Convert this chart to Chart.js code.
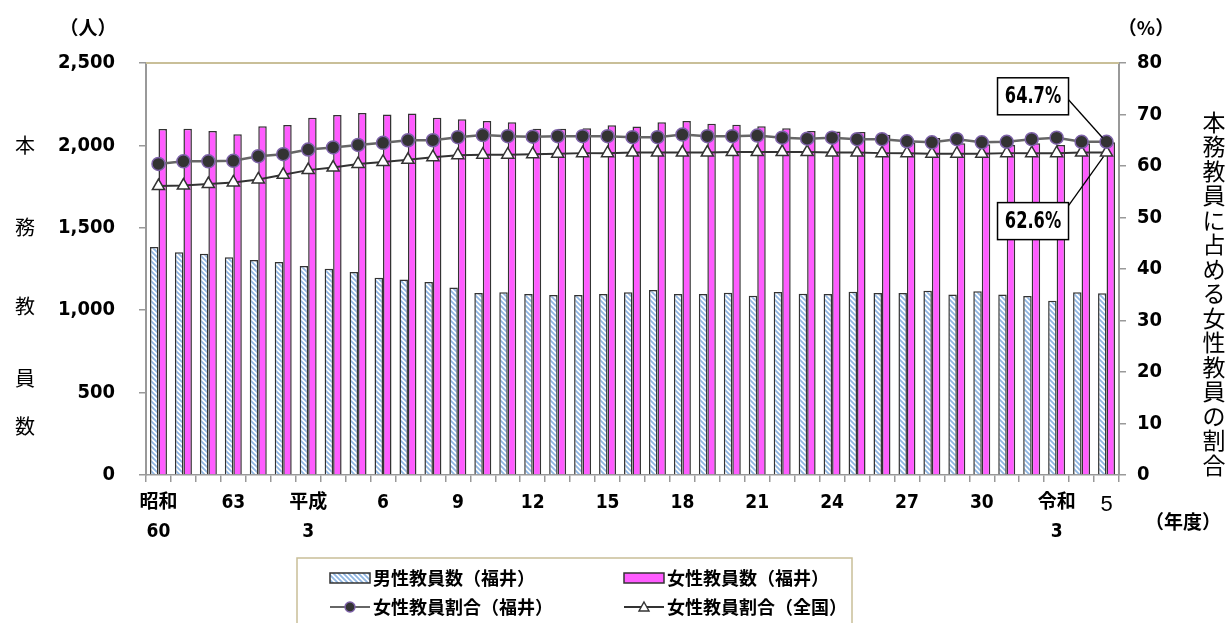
<!DOCTYPE html>
<html>
<head>
<meta charset="utf-8">
<script src="https://cdn.jsdelivr.net/npm/chart.js@4.4.1/dist/chart.umd.min.js"></script>
<style>
html,body{margin:0;padding:0;background:#fff;}
#wrap{width:1227px;height:623px;position:relative;}
</style>
</head>
<body>
<div id="wrap"><canvas id="c" width="1227" height="623"></canvas></div>
<script>
// 年度（昭和60〜令和5）
const categories = [
"昭和60","昭和61","昭和62","昭和63","平成元","平成2","平成3","平成4","平成5","平成6",
"平成7","平成8","平成9","平成10","平成11","平成12","平成13","平成14","平成15","平成16",
"平成17","平成18","平成19","平成20","平成21","平成22","平成23","平成24","平成25","平成26",
"平成27","平成28","平成29","平成30","令和元","令和2","令和3","令和4","令和5"
]
// 軸に出すラベル（空は非表示）
const tickLabels = [
["昭和","60"],"","","63","","",["平成","3"],"","","6",
"","","9","","","12","","","15","",
"","18","","","21","","","24","","",
"27","","","30","","",["令和","3"],"","5"
]
const maleCount = [
1383,1351,1343,1321,1305,1292,1268,1252,1232,1197,
1187,1171,1137,1104,1109,1098,1092,1092,1098,1109,
1123,1098,1098,1106,1088,1110,1100,1098,1112,1104,
1105,1118,1096,1115,1096,1086,1058,1109,1103
]
const femaleCount = [
2100,2101,2087,2067,2116,2124,2168,2184,2197,2187,
2193,2168,2158,2148,2140,2101,2101,2104,2122,2114,
2140,2148,2132,2126,2116,2104,2087,2085,2081,2065,
2016,2045,2013,2007,2003,2013,2003,2013,2019
]
const fukuiRate = [
60.4,60.9,60.9,61.0,61.9,62.3,63.2,63.6,64.1,64.5,
65.0,65.0,65.6,66.0,65.8,65.7,65.8,65.8,65.8,65.6,
65.6,66.1,65.8,65.8,65.9,65.5,65.3,65.5,65.2,65.2,
64.8,64.6,65.2,64.6,64.7,65.2,65.5,64.7,64.7
]
const nationalRate = [
56.1,56.2,56.5,56.8,57.4,58.3,59.2,59.7,60.4,60.8,
61.2,61.7,62.1,62.2,62.2,62.3,62.4,62.5,62.5,62.6,
62.6,62.6,62.6,62.7,62.7,62.7,62.7,62.6,62.6,62.5,
62.5,62.4,62.4,62.4,62.5,62.5,62.5,62.6,62.6
]
const leftTicks = [0,500,1000,1500,2000,2500]
const rightTicks = [0,10,20,30,40,50,60,70,80]

const NUM = "'Liberation Sans Narrow','DejaVu Sans Condensed','Noto Sans CJK JP',sans-serif"
const JP = "'Noto Sans CJK JP','Noto Sans',sans-serif"

// 斜線パターン
function hatch(){
  const p = document.createElement("canvas")
  p.width = 5; p.height = 5
  const g = p.getContext("2d")
  g.fillStyle = "#ffffff"; g.fillRect(0,0,5,5)
  g.strokeStyle = "#8fb6e3"; g.lineWidth = 1.8
  g.beginPath()
  g.moveTo(-1,-1); g.lineTo(6,6)
  g.moveTo(-1,4); g.lineTo(1,6)
  g.moveTo(4,-1); g.lineTo(6,1)
  g.stroke()
  return g.createPattern(p,"repeat")
}
const ctx = document.getElementById("c")
const hatchFill = hatch()

function vText(c, chars, x, ys, font){
  c.font = font
  c.textAlign = "center"; c.textBaseline = "middle"; c.fillStyle = "#000"
  chars.forEach((ch,i)=>c.fillText(ch, x, ys[i]))
}

const deco = {
  id:"deco",
  beforeDraw(chart){
    const c = chart.ctx
    c.save(); c.fillStyle = "#fff"; c.fillRect(0,0,chart.width,chart.height); c.restore()
  },
  afterDraw(chart){
    const c = chart.ctx, a = chart.chartArea
    c.save()
    // 上端の線
    c.strokeStyle = "#c9bf98"; c.lineWidth = 2
    c.beginPath(); c.moveTo(a.left, a.top); c.lineTo(a.right, a.top); c.stroke()

    // 単位
    c.fillStyle = "#000"; c.textBaseline = "middle"; c.textAlign = "center"
    c.font = "bold 19px " + JP
    c.fillText("（人）", 88, 28)
    c.fillText("（%）", 1146, 28)
    c.fillText("（年度）", 1183, 522)

    // 縦書きタイトル
    vText(c, ["本","務","教","員","数"], 25, [145,227,306,378,426], "20px " + JP)
    const rt = "本務教員に占める女性教員の割合".split("")
    vText(c, rt, 1214, rt.map((_,i)=>122+i*24.5), "23px " + JP)

    // 最終年の注記
    const n = fukuiRate.length - 1
    const pF = chart.getDatasetMeta(2).data[n]
    const pN = chart.getDatasetMeta(3).data[n]
    const bw = 71, bh = 37
    const bx = pF.x - 38 - bw
    const b1y = pF.y - 64, b2y = pN.y + 50
    c.strokeStyle = "#000"; c.lineWidth = 1.3
    c.beginPath(); c.moveTo(bx+bw, b1y+22); c.lineTo(pF.x-4, pF.y-4); c.stroke()
    c.beginPath(); c.moveTo(bx+bw, b2y+3); c.lineTo(pN.x-3, pN.y+4); c.stroke()
    c.lineWidth = 1.5
    ;[[b1y, fukuiRate[n]],[b2y, nationalRate[n]]].forEach(([by,v])=>{
      c.fillStyle = "#fff"; c.fillRect(bx,by,bw,bh); c.strokeRect(bx,by,bw,bh)
      c.fillStyle = "#000"; c.font = "bold 22px " + NUM
      c.save()
      c.translate(bx+bw/2, by+bh/2+1); c.scale(0.82,1.05)
      c.fillText(v.toFixed(1) + "%", 0, 0)
      c.restore()
    })

    // 凡例
    const lx = 297, ly = 558, lw = 555, lh = 70
    c.strokeStyle = "#c9bf98"; c.lineWidth = 1.5
    c.strokeRect(lx, ly, lw, lh)
    const ds = chart.data.datasets
    const items = [
      {d:ds[0], x:330, y:578, kind:"bar"},
      {d:ds[1], x:624, y:578, kind:"bar"},
      {d:ds[2], x:330, y:607, kind:"line"},
      {d:ds[3], x:624, y:607, kind:"line"}
    ]
    items.forEach(it=>{
      const d = it.d
      if(it.kind==="bar"){
        c.fillStyle = d.backgroundColor; c.fillRect(it.x, it.y-5, 40, 10)
        c.strokeStyle = d.borderColor; c.lineWidth = 1.5; c.strokeRect(it.x, it.y-5, 40, 10)
      } else {
        c.strokeStyle = d.borderColor; c.lineWidth = 1.8
        c.beginPath(); c.moveTo(it.x, it.y); c.lineTo(it.x+40, it.y); c.stroke()
        c.fillStyle = d.pointBackgroundColor; c.strokeStyle = d.pointBorderColor; c.lineWidth = 1.4
        c.beginPath()
        if(d.pointStyle==="circle"){ c.arc(it.x+20, it.y, 5, 0, Math.PI*2) }
        else { c.moveTo(it.x+20, it.y-5); c.lineTo(it.x+25, it.y+4); c.lineTo(it.x+15, it.y+4); c.closePath() }
        c.fill(); c.stroke()
      }
      c.fillStyle = "#000"; c.textAlign = "left"; c.textBaseline = "middle"
      c.font = "bold 18px " + JP
      c.fillText(d.label, it.x+43, it.y)
    })
    c.restore()
  }
}

new Chart(ctx,{
  type:"bar",
  data:{
    labels:categories,
    datasets:[
      {
        label:"男性教員数（福井）",
        data:maleCount,
        backgroundColor:hatchFill,
        borderColor:"#333333",
        borderWidth:1.5,
        yAxisID:"y",
        order:3
      },
      {
        label:"女性教員数（福井）",
        data:femaleCount,
        backgroundColor:"#ff5cff",
        borderColor:"#333333",
        borderWidth:1.5,
        yAxisID:"y",
        order:3
      },
      {
        type:"line",
        label:"女性教員割合（福井）",
        data:fukuiRate,
        borderColor:"#666666",
        borderWidth:2.5,
        pointStyle:"circle",
        pointRadius:6.5,
        pointBackgroundColor:"#333333",
        pointBorderColor:"#7d62a8",
        pointBorderWidth:1.5,
        tension:0,
        yAxisID:"y1",
        order:1
      },
      {
        type:"line",
        label:"女性教員割合（全国）",
        data:nationalRate,
        borderColor:"#333333",
        borderWidth:2,
        pointStyle:"triangle",
        pointRadius:7,
        pointBackgroundColor:"#ffffff",
        pointBorderColor:"#333333",
        pointBorderWidth:1.5,
        tension:0,
        yAxisID:"y1",
        order:2
      }
    ]
  },
  options:{
    responsive:false,
    animation:false,
    layout:{padding:{top:63,left:0,right:0,bottom:0}},
    datasets:{bar:{categoryPercentage:0.68,barPercentage:1}},
    plugins:{legend:{display:false},tooltip:{enabled:false}},
    scales:{
      x:{
        offset:true,
        afterFit(s){ s.height = 148 },
        grid:{offset:true,drawOnChartArea:false,tickLength:7,color:"#999",lineWidth:1.5},
        border:{color:"#999",width:1.5},
        ticks:{
          autoSkip:false,maxRotation:0,minRotation:0,padding:6,color:"#000",
          callback:(v,i)=>tickLabels[i],
          font:(c)=> c.index===tickLabels.length-1
            ? {family:"'Liberation Sans','DejaVu Sans',sans-serif",size:22,weight:"normal",lineHeight:1.5}
            : {family:NUM,size:19,weight:"bold",lineHeight:1.55}
        }
      },
      y:{
        position:"left",
        min:0,max:2500,
        afterFit(s){ s.width = 146 },
        afterBuildTicks(s){ s.ticks = leftTicks.map(v=>({value:v})) },
        grid:{drawOnChartArea:false,tickLength:7,color:"#999",lineWidth:1.5},
        border:{color:"#999",width:2},
        ticks:{padding:24,color:"#000",font:{family:NUM,size:20,weight:"bold"},
          callback:v=>v.toLocaleString("en-US")}
      },
      y1:{
        position:"right",
        min:0,max:80,
        afterFit(s){ s.width = 108 },
        afterBuildTicks(s){ s.ticks = rightTicks.map(v=>({value:v})) },
        grid:{drawOnChartArea:false,tickLength:7,color:"#999",lineWidth:1.5},
        border:{color:"#999",width:2},
        ticks:{padding:11,color:"#000",font:{family:NUM,size:20,weight:"bold"}}
      }
    }
  },
  plugins:[deco]
})
</script>
</body>
</html>
